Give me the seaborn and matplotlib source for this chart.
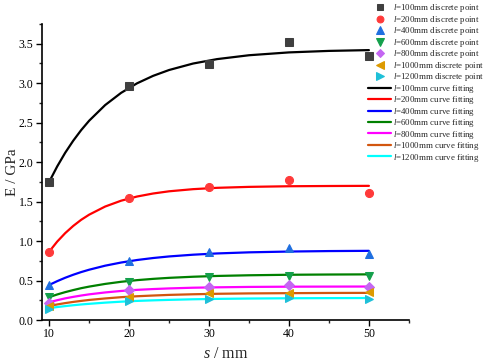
import matplotlib
matplotlib.use("Agg")
import matplotlib.pyplot as plt
import seaborn as sns
import pandas as pd
from matplotlib.ticker import MultipleLocator

# ---- data ----
s_points = [10, 20, 30, 40, 50]
lengths = ["100", "200", "400", "600", "800", "1000", "1200"]
E_100 = [1.75, 2.96, 3.24, 3.52, 3.34]
E_200 = [0.866, 1.547, 1.68, 1.77, 1.61]
E_400 = [0.444, 0.744, 0.866, 0.913, 0.84]
E_600 = [0.288, 0.48, 0.55, 0.56, 0.56]
E_800 = [0.22, 0.385, 0.415, 0.44, 0.42]
E_1000 = [0.178, 0.296, 0.338, 0.342, 0.35]
E_1200 = [0.135, 0.24, 0.266, 0.283, 0.262]

# fitted curves, read at these s positions
s_fit = [10, 11, 12, 13, 14, 15, 17, 19, 21, 23, 25, 28, 31, 35, 40, 45, 50]
fit_100 = [1.75, 1.945, 2.118, 2.270, 2.405, 2.524, 2.722, 2.877, 2.998, 3.092,
           3.166, 3.248, 3.304, 3.353, 3.389, 3.408, 3.418]
fit_200 = [0.866, 0.993, 1.100, 1.191, 1.269, 1.334, 1.437, 1.511, 1.564, 1.602,
           1.630, 1.657, 1.674, 1.686, 1.694, 1.697, 1.699]
fit_400 = [0.444, 0.492, 0.535, 0.573, 0.607, 0.637, 0.688, 0.728, 0.760, 0.785,
           0.805, 0.827, 0.843, 0.857, 0.867, 0.873, 0.876]
fit_600 = [0.290, 0.3235, 0.353, 0.379, 0.403, 0.423, 0.457, 0.484, 0.505, 0.521,
           0.534, 0.548, 0.558, 0.5665, 0.573, 0.576, 0.578]
fit_800 = [0.225, 0.251, 0.274, 0.293, 0.310, 0.325, 0.349, 0.368, 0.382, 0.392,
           0.400, 0.409, 0.414, 0.419, 0.422, 0.423, 0.424]
fit_1000 = [0.178, 0.197, 0.214, 0.229, 0.242, 0.254, 0.273, 0.289, 0.301, 0.310,
            0.318, 0.326, 0.332, 0.337, 0.340, 0.3425, 0.3436]
fit_1200 = [0.150, 0.164, 0.176, 0.187, 0.197, 0.205, 0.220, 0.232, 0.242, 0.249,
            0.255, 0.2625, 0.2674, 0.272, 0.2754, 0.2773, 0.2785]

point_series = [E_100, E_200, E_400, E_600, E_800, E_1000, E_1200]
fit_series = [fit_100, fit_200, fit_400, fit_600, fit_800, fit_1000, fit_1200]

marker_styles = ["s", "o", "^", "v", "D", "<", ">"]
marker_sizes = [5.2, 5.8, 6, 6, 4.6, 6, 6]
marker_colors = ["#3f3f3f", "#ff3a3a", "#1f6fe0", "#14a04c", "#c466f2", "#dd9a00", "#1ec0d8"]
line_colors = ["#000000", "#ff0000", "#0000ff", "#008000", "#ff00ff", "#d2560f", "#00ffff"]

# ---- style ----
sns.set_theme(style="ticks")
plt.rcParams["font.family"] = ["Liberation Serif", "DejaVu Serif"]
plt.rcParams["mathtext.fontset"] = "custom"
plt.rcParams["mathtext.rm"] = "Liberation Serif"
plt.rcParams["mathtext.it"] = "Liberation Serif:italic"

fig = plt.figure(figsize=(4.84, 3.62), dpi=100)
ax = fig.add_axes([0.0868, 0.116, 0.758, 0.818])

pt_handles = []
ln_handles = []
for i, L in enumerate(lengths):
    df_fit = pd.DataFrame({"s": s_fit, "E": fit_series[i]})
    sns.lineplot(data=df_fit, x="s", y="E", ax=ax, color=line_colors[i], lw=1.6,
                 zorder=2, legend=False)
    ln_handles.append(ax.lines[-1])
for i, L in enumerate(lengths):
    df_pt = pd.DataFrame({"s": s_points, "E": point_series[i]})
    sns.lineplot(data=df_pt, x="s", y="E", ax=ax, lw=0, marker=marker_styles[i],
                 markersize=marker_sizes[i], markerfacecolor=marker_colors[i],
                 markeredgecolor=marker_colors[i], color=marker_colors[i],
                 zorder=3, legend=False)
    pt_handles.append(ax.lines[-1])

pt_labels = [f"$l$=" + L + "mm discrete point" for L in lengths]
ln_labels = [f"$l$=" + L + "mm curve fitting" for L in lengths]

ax.set_xlim(9.1, 55)
ax.set_ylim(0, 3.75)
ax.xaxis.set_major_locator(MultipleLocator(10))
ax.xaxis.set_minor_locator(MultipleLocator(5))
ax.yaxis.set_major_locator(MultipleLocator(0.5))
ax.yaxis.set_minor_locator(MultipleLocator(0.25))
ax.set_xticks([10, 20, 30, 40, 50])
ax.tick_params(which="major", direction="out", length=4, width=1, labelsize=8.5,
               colors="black", pad=2)
ax.tick_params(which="minor", direction="out", length=2.5, width=1)
ax.set_yticklabels([f"{v:.1f}" for v in ax.get_yticks()])
sns.despine(ax=ax)
for sp in ["left", "bottom"]:
    ax.spines[sp].set_linewidth(1.2)
    ax.spines[sp].set_color("black")

ax.set_xlabel("$s$ / mm", fontsize=11.5, labelpad=4)
ax.set_ylabel("E / GPa", fontsize=11, labelpad=1)
ax.yaxis.set_label_coords(-0.062, 0.5)

leg = fig.legend(pt_handles + ln_handles, pt_labels + ln_labels,
                 loc="upper right", bbox_to_anchor=(1.012, 1.008), frameon=False,
                 fontsize=6.4, handlelength=2.6, handletextpad=0.2,
                 labelspacing=-0.06, borderpad=0.1, markerscale=0.85)

fig.savefig("out.png", dpi=100)
